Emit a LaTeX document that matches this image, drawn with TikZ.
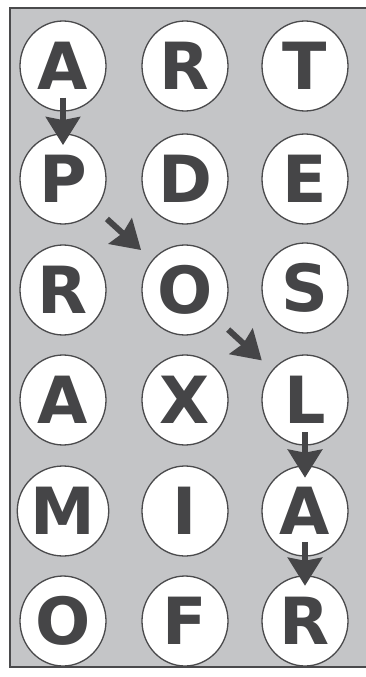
\documentclass[tikz,border=0pt]{standalone}
\usepackage{fontspec}
\newfontfamily\letterfont{DejaVu Sans}
\usetikzlibrary{arrows.meta,shapes.geometric,calc}
\definecolor{bggray}{HTML}{C4C5C7}
\definecolor{ink}{HTML}{454547}
\definecolor{rim}{HTML}{4A4A4C}
\tikzset{
  lettercircle/.style={ellipse, draw=rim, line width=1.3pt, fill=white,
    minimum width=86pt, minimum height=90pt, inner sep=0pt,
    text=ink, font=\letterfont\bfseries\fontsize{65}{65}\selectfont},
  patharrow/.style={draw=ink, line width=6pt,
    -{Stealth[length=28pt,width=34pt,inset=3pt,fill=ink]}}
}
\begin{document}
\begin{tikzpicture}[x=1pt,y=-1pt]
\useasboundingbox (0,0) rectangle (366,677);
\fill[bggray] (10,8) rectangle (366,667);
\draw[rim, line width=1.8pt] (366,8) -- (10,8) -- (10,667) -- (366,667);
% row 1
\node[lettercircle] (a11) at (63,66) {A};
\node[lettercircle] (a12) at (185,66) {R};
\node[lettercircle] (a13) at (305,66) {T};
% row 2
\node[lettercircle] (a21) at (63,179) {P};
\node[lettercircle] (a22) at (185,179) {D};
\node[lettercircle] (a23) at (305,179) {E};
% row 3
\node[lettercircle] (a31) at (63,290) {R};
\node[lettercircle] (a32) at (185,290) {O};
\node[lettercircle] (a33) at (305,288) {S};
% row 4
\node[lettercircle] (a41) at (63,400) {A};
\node[lettercircle] (a42) at (185,400) {X};
\node[lettercircle] (a43) at (305,400) {L};
% row 5
\node[lettercircle] (a51) at (63,511) {M};
\node[lettercircle] (a52) at (185,511) {I};
\node[lettercircle] (a53) at (305,511) {A};
% row 6
\node[lettercircle] (a61) at (63,621) {O};
\node[lettercircle] (a62) at (185,621) {F};
\node[lettercircle] (a63) at (305,621) {R};
% arrows
\draw[patharrow] ($(a11)!0.28!(a21)$) -- ($(a11)!0.70!(a21)$);
\draw[patharrow] ($(a21)!0.36!(a32)$) -- ($(a21)!0.64!(a32)$);
\draw[patharrow] ($(a32)!0.36!(a43)$) -- ($(a32)!0.64!(a43)$);
\draw[patharrow] ($(a43)!0.29!(a53)$) -- ($(a43)!0.70!(a53)$);
\draw[patharrow] ($(a53)!0.28!(a63)$) -- ($(a53)!0.68!(a63)$);
\end{tikzpicture}
\end{document}
